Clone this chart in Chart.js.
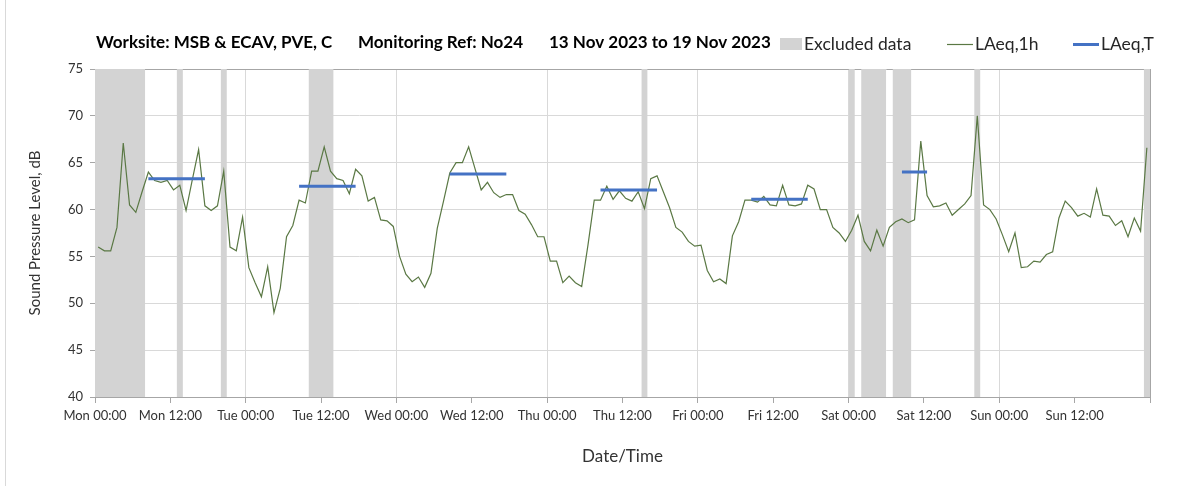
<!DOCTYPE html>
<html>
<head>
<meta charset="utf-8">
<script src="https://cdn.jsdelivr.net/npm/chart.js@4"></script>
<style>
  html, body { margin: 0; padding: 0; background: #fff; }
</style>
</head>
<body>
<canvas id="noiseChart" width="1203" height="486"></canvas>
<script>
// LAeq,1h - one value per hour, Mon 00:00 to Sun 24:00
const hourlyLevels = [
  56.0, 55.6, 55.6, 58.1, 67.1, 60.5, 59.7, 61.9, 64.0, 63.1, 62.9, 63.1,
  62.1, 62.6, 59.9, 63.2, 66.4, 60.4, 59.9, 60.4, 64.1, 56.0, 55.6, 59.2,
  53.8, 52.2, 50.7, 53.9, 49.0, 51.6, 57.1, 58.3, 61.0, 60.7, 64.1, 64.1,
  66.7, 64.1, 63.3, 63.1, 61.7, 64.3, 63.6, 60.9, 61.3, 58.9, 58.8, 58.2,
  55.0, 53.1, 52.3, 52.8, 51.7, 53.2, 58.0, 60.9, 63.9, 65.0, 65.0, 66.7,
  64.4, 62.1, 62.9, 61.8, 61.3, 61.6, 61.6, 59.9, 59.5, 58.4, 57.1, 57.1,
  54.5, 54.5, 52.2, 52.9, 52.2, 51.8, 56.2, 61.0, 61.0, 62.5, 61.1, 62.0,
  61.2, 60.9, 61.9, 60.1, 63.3, 63.6, 61.9, 60.2, 58.1, 57.6, 56.6, 56.1,
  56.2, 53.5, 52.3, 52.6, 52.1, 57.2, 58.7, 61.0, 61.0, 60.8, 61.4, 60.5,
  60.4, 62.6, 60.5, 60.4, 60.6, 62.6, 62.2, 60.0, 60.0, 58.1, 57.5, 56.6,
  57.8, 59.4, 56.6, 55.6, 57.8, 56.1, 58.1, 58.7, 59.0, 58.6, 58.9, 67.3,
  61.5, 60.3, 60.4, 60.7, 59.4, 60.0, 60.6, 61.5, 70.0, 60.5, 60.0, 59.0,
  57.3, 55.5, 57.5, 53.8, 53.9, 54.5, 54.4, 55.2, 55.5, 59.1, 60.9, 60.2,
  59.3, 59.6, 59.2, 62.2, 59.4, 59.3, 58.3, 58.8, 57.1, 59.1, 57.7, 66.6
];

// LAeq,T - daytime periods (first and last hour index) and level
const periodStartHour = [8, 32, 56, 80, 104, 128];
const periodEndHour = [17, 41, 65, 89, 113, 132];
const periodLevels = [63.3, 62.5, 63.8, 62.1, 61.1, 64.0];

// excluded data windows, hours from Mon 00:00
const excludedFrom = [0, 13, 20, 34, 87, 120, 122, 127, 140, 167];
const excludedTo = [8, 14, 21, 38, 88, 121, 126, 130, 141, 168];

const timeLabels = ['Mon 00:00', 'Mon 12:00', 'Tue 00:00', 'Tue 12:00', 'Wed 00:00', 'Wed 12:00',
  'Thu 00:00', 'Thu 12:00', 'Fri 00:00', 'Fri 12:00', 'Sat 00:00', 'Sat 12:00', 'Sun 00:00', 'Sun 12:00', ''];

const titleParts = ['Worksite: MSB & ECAV, PVE, C', 'Monitoring Ref: No24', '13 Nov 2023 to 19 Nov 2023'];

const FONT = 'Lato, "Open Sans", sans-serif';
const GREEN = '#5a7844';
const BLUE = '#4472c4';
const GREY = '#d3d3d3';
const AXIS = '#a6a6a6';
const GRID = '#d9d9d9';

const lineData = hourlyLevels.map((v, i) => ({ x: i + 0.5, y: v }));

const periodData = [];
periodLevels.forEach((v, i) => {
    periodData.push({ x: periodStartHour[i] + 0.5, y: v });
    periodData.push({ x: periodEndHour[i] + 0.5, y: v });
    periodData.push({ x: periodEndHour[i] + 0.5, y: null });
});

const excludedData = [];
excludedFrom.forEach((s, i) => {
    excludedData.push({ x: s, y: 75 });
    excludedData.push({ x: excludedTo[i], y: 75 });
    excludedData.push({ x: excludedTo[i], y: null });
});

// title and legend share one row above the plot
const headerPlugin = {
    id: 'header',
    afterDraw(chart) {
        const ctx = chart.ctx;
        ctx.save();
        // chart area border on the left edge
        ctx.strokeStyle = GRID;
        ctx.lineWidth = 1;
        ctx.beginPath();
        ctx.moveTo(5.5, 0);
        ctx.lineTo(5.5, 486);
        ctx.stroke();

        ctx.textBaseline = 'middle';
        ctx.fillStyle = '#000';
        ctx.font = 'bold 17px ' + FONT;
        const xs = [96, 358, 549];
        titleParts.forEach((t, i) => ctx.fillText(t, xs[i], 43));

        ctx.font = '17.5px ' + FONT;
        ctx.fillStyle = GREY;
        ctx.fillRect(780, 38, 22, 12);
        ctx.fillStyle = '#262626';
        ctx.fillText('Excluded data', 804, 44);

        ctx.strokeStyle = GREEN;
        ctx.lineWidth = 1.2;
        ctx.beginPath();
        ctx.moveTo(947, 44.5);
        ctx.lineTo(973, 44.5);
        ctx.stroke();
        ctx.fillText('LAeq,1h', 975, 44);

        ctx.strokeStyle = BLUE;
        ctx.lineWidth = 3;
        ctx.beginPath();
        ctx.moveTo(1073, 44.5);
        ctx.lineTo(1099, 44.5);
        ctx.stroke();
        ctx.fillText('LAeq,T', 1101, 44);
        ctx.restore();
    }
};

new Chart(document.getElementById('noiseChart'), {
    type: 'line',
    data: {
        datasets: [
            {
                label: 'LAeq,T',
                data: periodData,
                borderColor: BLUE,
                borderWidth: 3,
                pointRadius: 0,
                spanGaps: false,
                order: 0
            },
            {
                label: 'LAeq,1h',
                data: lineData,
                borderColor: GREEN,
                borderWidth: 1.2,
                pointRadius: 0,
                tension: 0,
                order: 1
            },
            {
                label: 'Excluded data',
                data: excludedData,
                borderWidth: 0,
                borderColor: 'rgba(0,0,0,0)',
                backgroundColor: GREY,
                fill: 'start',
                pointRadius: 0,
                spanGaps: false,
                order: 2
            }
        ]
    },
    options: {
        responsive: false,
        animation: false,
        layout: { padding: { top: 69, right: 53, bottom: 0, left: 0 } },
        plugins: {
            legend: { display: false },
            tooltip: { enabled: false }
        },
        scales: {
            x: {
                type: 'linear',
                min: 0,
                max: 168,
                afterFit(scale) { scale.height = 89; },
                ticks: {
                    stepSize: 12,
                    autoSkip: false,
                    maxRotation: 0,
                    padding: 5,
                    color: '#333',
                    font: { family: FONT, size: 13 },
                    callback: (v) => timeLabels[v / 12] ?? ''
                },
                grid: {
                    color: (c) => {
                        const v = c.tick ? c.tick.value : 0;
                        if (v === 168) return AXIS;
                        if (v > 0 && v % 24 === 0) return GRID;
                        return 'rgba(0,0,0,0)';
                    },
                    tickColor: AXIS,
                    tickLength: 6
                },
                border: { color: AXIS },
                title: {
                    display: true,
                    text: 'Date/Time',
                    color: '#333',
                    font: { family: FONT, size: 17 },
                    padding: { top: 0, bottom: 19 }
                }
            },
            y: {
                min: 40,
                max: 75,
                afterFit(scale) { scale.width = 95; },
                ticks: {
                    stepSize: 5,
                    padding: 7,
                    color: '#333',
                    font: { family: FONT, size: 13 }
                },
                grid: {
                    color: (c) => (c.tick && c.tick.value === 75 ? AXIS : GRID),
                    tickColor: AXIS,
                    tickLength: 5
                },
                border: { color: AXIS },
                title: {
                    display: true,
                    text: 'Sound Pressure Level, dB',
                    color: '#333',
                    font: { family: FONT, size: 15 },
                    padding: { top: 26, bottom: 0 }
                }
            }
        }
    },
    plugins: [headerPlugin]
});
</script>
</body>
</html>
